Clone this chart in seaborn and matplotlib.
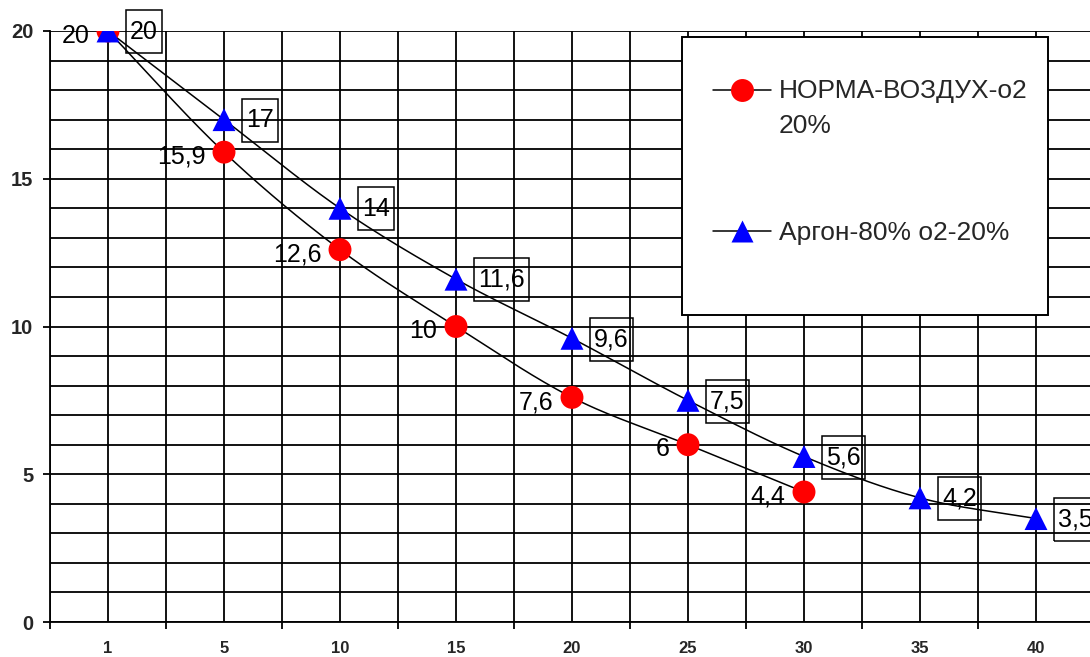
import numpy as np
import pandas as pd
import matplotlib
matplotlib.use("Agg")
import matplotlib.pyplot as plt
import seaborn as sns
from matplotlib.lines import Line2D
from matplotlib.patches import Rectangle
from matplotlib.path import Path
from matplotlib.legend_handler import HandlerLine2D

# ---- data ----
categories = ['1', '5', '10', '15', '20', '25', '30', '35', '40']
norma = [20, 15.9, 12.6, 10, 7.6, 6, 4.4, np.nan, np.nan]
argon = [20, 17, 14, 11.6, 9.6, 7.5, 5.6, 4.2, 3.5]
series_names = ['НОРМА-ВОЗДУХ-о2\n20%', 'Аргон-80% о2-20%']

sns.set_style('white')
plt.rcParams['font.family'] = ['Liberation Sans', 'DejaVu Sans']

W, H = 1090, 657
fig = plt.figure(figsize=(W / 100, H / 100), dpi=100)
ax = fig.add_axes([50 / W, 35 / H, 1044 / W, 591 / H])


def smooth(xv, yv, n=30):
    """Catmull-Rom smoothing through the points (like an Excel smoothed line)."""
    p = np.column_stack([xv, yv]).astype(float)
    p = np.vstack([p[0] + (p[0] - p[1]), p, p[-1] + (p[-1] - p[-2])])
    out = []
    t = np.linspace(0, 1, n)[:, None]
    for i in range(1, len(p) - 2):
        p0, p1, p2, p3 = p[i - 1], p[i], p[i + 1], p[i + 2]
        seg = 0.5 * ((2 * p1) + (-p0 + p2) * t + (2 * p0 - 5 * p1 + 4 * p2 - p3) * t ** 2
                     + (-p0 + 3 * p1 - 3 * p2 + p3) * t ** 3)
        out.append(seg if i == 1 else seg[1:])
    s = np.vstack(out)
    return s[:, 0], s[:, 1]


def fmt(v):
    return f"{v:g}".replace('.', ',')


def tallbox(x0, y0, width, height, mutation_size):
    padx = 0.16 * mutation_size
    pady = 0.38 * mutation_size
    x0, y0 = x0 - padx, y0 - pady
    w, h = width + 2 * padx, height + 2 * pady
    return Path([(x0, y0), (x0 + w, y0), (x0 + w, y0 + h), (x0, y0 + h), (x0, y0)], closed=True)


idx = np.arange(len(categories))
series = [
    (np.array(norma, float), 'red', 'o', 16.5),
    (np.array(argon, float), 'blue', '^', 16.5),
]

for k, (vals, col, mk, ms) in enumerate(series):
    m = ~np.isnan(vals)
    xs, ys = smooth(idx[m], vals[m])
    sns.lineplot(x=xs, y=ys, sort=False, estimator=None, color='black', lw=1.1, ax=ax, zorder=3)
    sns.scatterplot(x=idx[m], y=vals[m], marker=mk, s=ms ** 2, color=col, edgecolor='none',
                    linewidth=0, ax=ax, zorder=4)

LABEL_FS = 18
# data labels
vals = series[0][0]
for i, v in enumerate(vals):
    if np.isnan(v):
        continue
    ax.annotate(fmt(v), (i, v), xytext=(-13.5, -3.3), textcoords='offset points',
                ha='right', va='center', fontsize=LABEL_FS, color='black', zorder=5)
vals = series[1][0]
for i, v in enumerate(vals):
    ax.annotate(fmt(v), (i, v), xytext=(16, -0.5), textcoords='offset points',
                ha='left', va='center', fontsize=LABEL_FS, color='black', zorder=5,
                bbox=dict(boxstyle=tallbox, fc='none', ec='black', lw=1.1),
                annotation_clip=False)

# axes
ax.set_xlim(-0.5, len(categories) - 0.5)
ax.set_ylim(0, 20)
ax.set_xticks(idx)
ax.set_xticklabels(categories, fontsize=12, fontweight='bold')
ax.set_xticks(np.arange(-0.5, len(categories), 1), minor=True)
ax.set_yticks(range(0, 21, 5))
ax.set_yticklabels([str(v) for v in range(0, 21, 5)], fontsize=14.5, fontweight='bold')
ax.set_yticks(range(0, 21), minor=True)
ax.tick_params(axis='x', which='major', length=0, pad=14, bottom=True)
ax.tick_params(axis='x', which='minor', length=5, width=1.3, direction='out', bottom=True, color='black')
ax.tick_params(axis='y', which='major', length=5, width=1.3, direction='out', left=True, pad=7, color='black')
ax.tick_params(axis='y', which='minor', length=0)
ax.grid(True, which='both', color='black', lw=1.3)
ax.set_axisbelow(True)
for s in ['top', 'right']:
    ax.spines[s].set_visible(False)
for s in ['left', 'bottom']:
    ax.spines[s].set_color('black')
    ax.spines[s].set_linewidth(1.3)
ax.set_xlabel('')
ax.set_ylabel('')

# legend box
rect = Rectangle((682 / W, 1 - 315 / H), 366 / W, 278 / H, transform=fig.transFigure,
                 facecolor='white', edgecolor='black', lw=1.4, zorder=4.5)
fig.add_artist(rect)


class FirstLineHandler(HandlerLine2D):
    def __init__(self, shift, **kw):
        super().__init__(**kw)
        self.shift = shift

    def create_artists(self, legend, orig_handle, xdescent, ydescent, width, height, fontsize, trans):
        arts = super().create_artists(legend, orig_handle, xdescent, ydescent, width, height,
                                      fontsize, trans)
        for a in arts:
            a.set_ydata(np.asarray(a.get_ydata(), float) + self.shift)
        return arts


handles = [
    Line2D([], [], color='black', lw=1.1, marker='o', markersize=16.5,
           markerfacecolor='red', markeredgecolor='none'),
    Line2D([], [], color='black', lw=1.1, marker='^', markersize=16.5,
           markerfacecolor='blue', markeredgecolor='none'),
]
leg = fig.legend(handles, series_names, loc='upper left', bbox_to_anchor=(713 / W, 1 - 79 / H),
                 frameon=False, fontsize=19, handlelength=2.2, handletextpad=0.3,
                 labelspacing=3.15, borderpad=0, borderaxespad=0,
                 handler_map={handles[0]: FirstLineHandler(13.2)})
for t in leg.get_texts():
    t.set_linespacing(1.58)
leg.set_zorder(6)

fig.savefig('out.png', dpi=100)
